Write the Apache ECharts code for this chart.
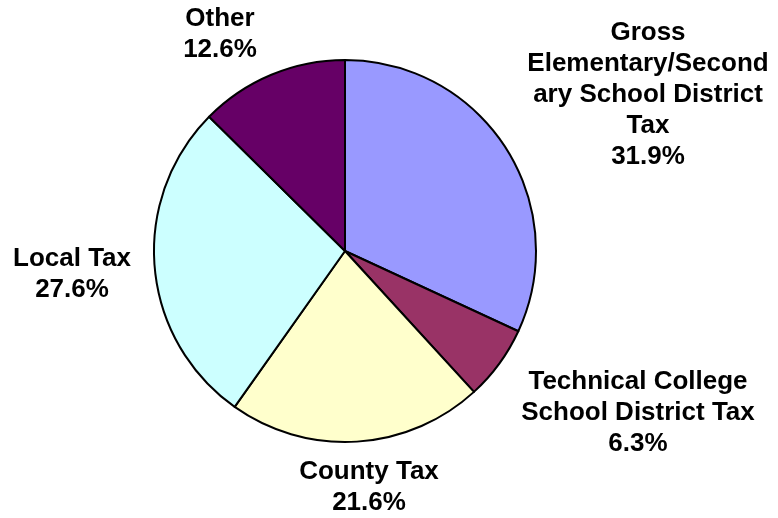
<!DOCTYPE html>
<html>
<head>
<meta charset="utf-8">
<script src="https://cdn.jsdelivr.net/npm/echarts@6/dist/echarts.min.js"></script>
<style>
  html, body { margin: 0; padding: 0; background: #ffffff; }
  #chart { width: 778px; height: 518px; }
</style>
</head>
<body>
<div id="chart"></div>
<script>
// Tax shares, listed clockwise from 12 o'clock
const categories = [
  'Gross\nElementary/Second\nary School District\nTax',
  'Technical College\nSchool District Tax',
  'County Tax',
  'Local Tax',
  'Other'
];
const shares = [31.9, 6.3, 21.6, 27.6, 12.6];
const sliceColors = ['#9999FF', '#993366', '#FFFFCC', '#CCFFFF', '#660066'];

// Where each slice's caption block is centred
const labelAnchors = [[648, 95], [638, 413], [369, 487], [72, 274], [220, 34]];

const chart = echarts.init(document.getElementById('chart'), null, { renderer: 'canvas' });

chart.setOption({
  backgroundColor: '#ffffff',
  animation: false,
  series: [{
    type: 'pie',
    center: [345, 251],
    radius: 191,
    startAngle: 90,
    clockwise: true,
    data: categories.map((name, i) => ({
      name: name,
      value: shares[i],
      itemStyle: { color: sliceColors[i] }
    })),
    itemStyle: { borderColor: '#000000', borderWidth: 2 },
    emphasis: { disabled: true },
    label: {
      show: true,
      position: 'outside',
      alignTo: 'none',
      overflow: 'none',
      bleedMargin: 0,
      formatter: p => p.name + '\n' + p.value.toFixed(1) + '%',
      fontFamily: '"Liberation Sans", Arial, sans-serif',
      fontWeight: 'bold',
      fontSize: 26,
      lineHeight: 31,
      color: '#000000',
      align: 'center'
    },
    labelLine: { show: false },
    labelLayout: params => ({
      x: labelAnchors[params.dataIndex][0],
      y: labelAnchors[params.dataIndex][1],
      align: 'center',
      verticalAlign: 'middle'
    })
  }]
});
</script>
</body>
</html>
